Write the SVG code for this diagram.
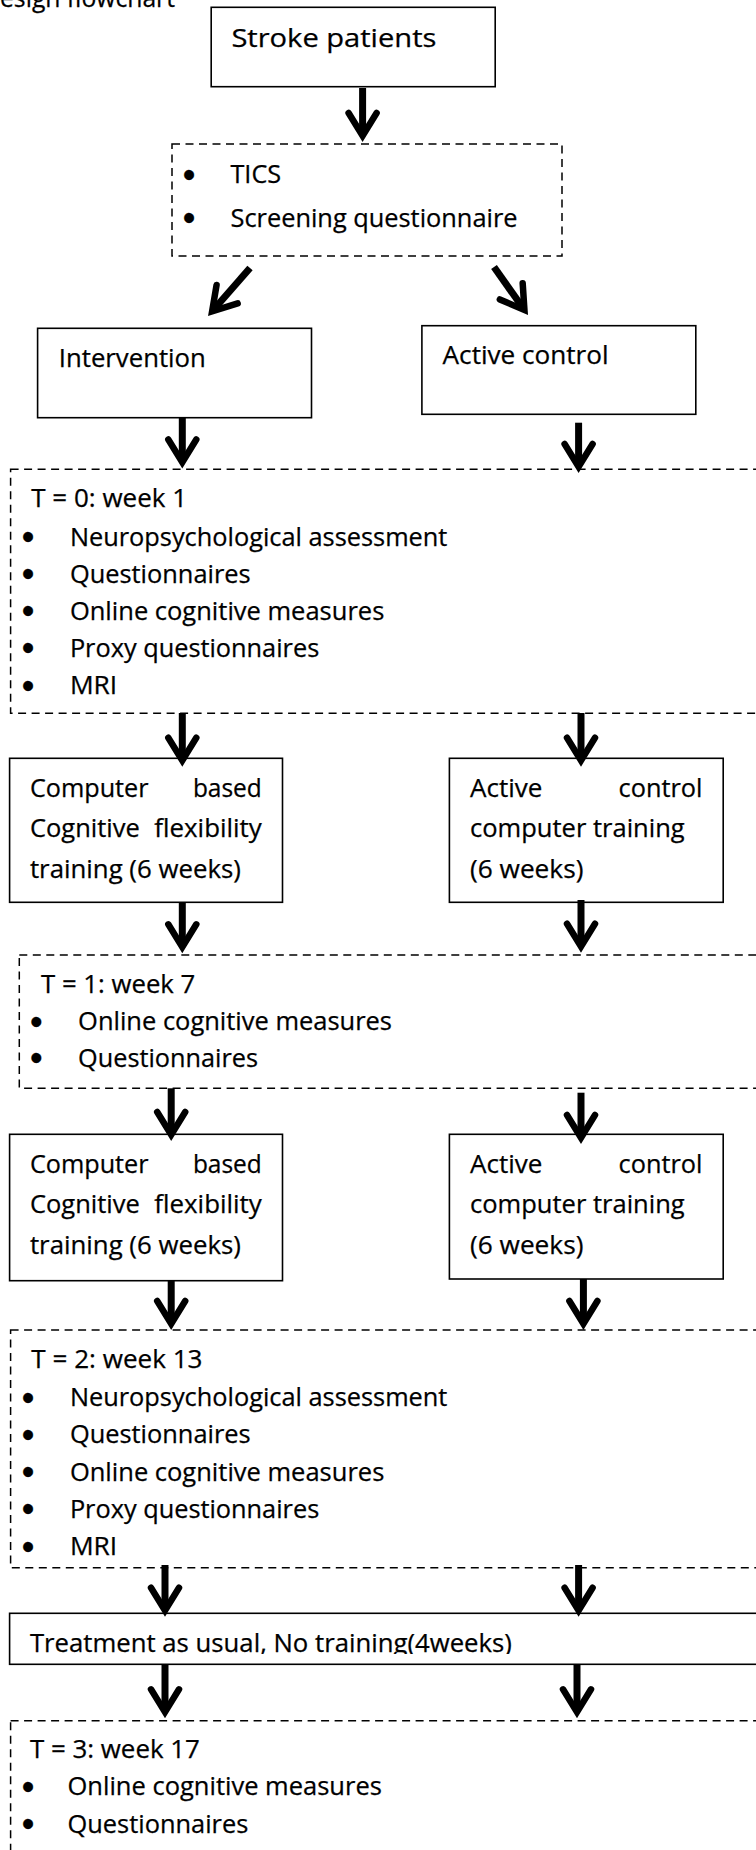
<svg xmlns="http://www.w3.org/2000/svg" width="756" height="1850" viewBox="0 0 756 1850">
<defs>
<style>
text{font-family:"Open Sans","Liberation Sans",sans-serif;font-size:25px;fill:#000;stroke:#000;stroke-width:0.25}
.box{fill:#fff;stroke:#000;stroke-width:1.6}
.dash{fill:none;stroke:#000;stroke-width:1.5;stroke-dasharray:8 5.5}
.shaft{stroke:#000;stroke-width:7;fill:none;marker-end:url(#ah)}
.bl{font-family:"Liberation Sans",sans-serif;font-size:36px;text-anchor:middle}
</style>
<marker id="ah" markerUnits="userSpaceOnUse" orient="auto" refX="0" refY="0" markerWidth="40" markerHeight="40" overflow="visible">
<path d="M-21,-14 L1.8,0 L-21,14" fill="none" stroke="#000" stroke-width="6.5" stroke-linecap="round" stroke-linejoin="miter" stroke-miterlimit="10"/>
</marker>
<clipPath id="tc"><rect x="0" y="1600" width="756" height="54"/></clipPath>
</defs>
<rect width="756" height="1850" fill="#fff"/>

<g id="title"><text x="0" y="7" textLength="175" lengthAdjust="spacingAndGlyphs">esign flowchart</text></g>

<g id="stroke-patients">
<rect class="box" x="211.2" y="7.3" width="284" height="79.4"/>
<text x="231.4" y="46.7" textLength="205" lengthAdjust="spacingAndGlyphs">Stroke patients</text>
</g>

<g id="screening">
<rect class="dash" x="172" y="144" width="390" height="112"/>
<text class="bl" x="189" y="187">•</text>
<text x="230.5" y="183.3" textLength="50.6" lengthAdjust="spacingAndGlyphs">TICS</text>
<text class="bl" x="189" y="229.6">•</text>
<text x="230.5" y="226.7" textLength="287" lengthAdjust="spacingAndGlyphs">Screening questionnaire</text>
</g>

<g id="intervention">
<rect class="box" x="37.6" y="328.3" width="273.9" height="89.4"/>
<text x="58.8" y="367.3" textLength="147" lengthAdjust="spacingAndGlyphs">Intervention</text>
</g>

<g id="active-control">
<rect class="box" x="421.9" y="325.7" width="273.9" height="88.6"/>
<text x="442.6" y="364" textLength="166" lengthAdjust="spacingAndGlyphs">Active control</text>
</g>

<g id="t0">
<rect class="dash" x="10.6" y="469.3" width="770" height="244"/>
<text x="31.3" y="507" textLength="155.7" lengthAdjust="spacingAndGlyphs">T = 0: week 1</text>
<text class="bl" x="28" y="549">•</text>
<text x="69.9" y="545.5" textLength="377.5" lengthAdjust="spacingAndGlyphs">Neuropsychological assessment</text>
<text class="bl" x="28" y="586">•</text>
<text x="69.9" y="582.5" textLength="180.8" lengthAdjust="spacingAndGlyphs">Questionnaires</text>
<text class="bl" x="28" y="623">•</text>
<text x="69.9" y="619.5" textLength="314.4" lengthAdjust="spacingAndGlyphs">Online cognitive measures</text>
<text class="bl" x="28" y="660.2">•</text>
<text x="69.9" y="656.7" textLength="249.3" lengthAdjust="spacingAndGlyphs">Proxy questionnaires</text>
<text class="bl" x="28" y="697.8">•</text>
<text x="69.9" y="694.3" textLength="47.3" lengthAdjust="spacingAndGlyphs">MRI</text>
</g>

<g id="cft-1">
<rect class="box" x="9.6" y="758.3" width="272.9" height="144"/>
<text y="796.7"><tspan x="29.9" textLength="118.6" lengthAdjust="spacingAndGlyphs">Computer</tspan><tspan x="192.9" textLength="68.9" lengthAdjust="spacingAndGlyphs">based</tspan></text>
<text y="837.3"><tspan x="29.9" textLength="109.9" lengthAdjust="spacingAndGlyphs">Cognitive</tspan><tspan x="154.3" textLength="107.5" lengthAdjust="spacingAndGlyphs">flexibility</tspan></text>
<text x="29.9" y="878.3" textLength="211" lengthAdjust="spacingAndGlyphs">training (6 weeks)</text>
</g>

<g id="act-1">
<rect class="box" x="449.4" y="758.3" width="273.8" height="144"/>
<text y="796.7"><tspan x="470" textLength="72.4" lengthAdjust="spacingAndGlyphs">Active</tspan><tspan x="618.6" textLength="83.9" lengthAdjust="spacingAndGlyphs">control</tspan></text>
<text x="470" y="837.3" textLength="214.7" lengthAdjust="spacingAndGlyphs">computer training</text>
<text x="470" y="878.3" textLength="113.4" lengthAdjust="spacingAndGlyphs">(6 weeks)</text>
</g>

<g id="t1">
<rect class="dash" x="19.3" y="955" width="770" height="133.3"/>
<text x="41" y="992.7" textLength="154.3" lengthAdjust="spacingAndGlyphs">T = 1: week 7</text>
<text class="bl" x="36.2" y="1033.5">•</text>
<text x="78.1" y="1030" textLength="313.9" lengthAdjust="spacingAndGlyphs">Online cognitive measures</text>
<text class="bl" x="36.2" y="1070.2">•</text>
<text x="78.1" y="1066.7" textLength="179.9" lengthAdjust="spacingAndGlyphs">Questionnaires</text>
</g>

<g id="cft-2">
<rect class="box" x="9.6" y="1134.3" width="272.9" height="146.4"/>
<text y="1172.7"><tspan x="29.9" textLength="118.6" lengthAdjust="spacingAndGlyphs">Computer</tspan><tspan x="192.9" textLength="68.9" lengthAdjust="spacingAndGlyphs">based</tspan></text>
<text y="1213.3"><tspan x="29.9" textLength="109.9" lengthAdjust="spacingAndGlyphs">Cognitive</tspan><tspan x="154.3" textLength="107.5" lengthAdjust="spacingAndGlyphs">flexibility</tspan></text>
<text x="29.9" y="1254" textLength="211" lengthAdjust="spacingAndGlyphs">training (6 weeks)</text>
</g>

<g id="act-2">
<rect class="box" x="449.4" y="1134.3" width="273.8" height="144.7"/>
<text y="1172.7"><tspan x="470" textLength="72.4" lengthAdjust="spacingAndGlyphs">Active</tspan><tspan x="618.6" textLength="83.9" lengthAdjust="spacingAndGlyphs">control</tspan></text>
<text x="470" y="1213.3" textLength="214.7" lengthAdjust="spacingAndGlyphs">computer training</text>
<text x="470" y="1254" textLength="113.4" lengthAdjust="spacingAndGlyphs">(6 weeks)</text>
</g>

<g id="t2">
<rect class="dash" x="10.6" y="1330" width="770" height="237.7"/>
<text x="31.3" y="1368.3" textLength="171.2" lengthAdjust="spacingAndGlyphs">T = 2: week 13</text>
<text class="bl" x="28" y="1409.5">•</text>
<text x="69.9" y="1406" textLength="377.5" lengthAdjust="spacingAndGlyphs">Neuropsychological assessment</text>
<text class="bl" x="28" y="1446.8">•</text>
<text x="69.9" y="1443.3" textLength="180.8" lengthAdjust="spacingAndGlyphs">Questionnaires</text>
<text class="bl" x="28" y="1484.2">•</text>
<text x="69.9" y="1480.7" textLength="314.4" lengthAdjust="spacingAndGlyphs">Online cognitive measures</text>
<text class="bl" x="28" y="1521.2">•</text>
<text x="69.9" y="1517.7" textLength="249.3" lengthAdjust="spacingAndGlyphs">Proxy questionnaires</text>
<text class="bl" x="28" y="1558.5">•</text>
<text x="69.9" y="1555" textLength="47.3" lengthAdjust="spacingAndGlyphs">MRI</text>
</g>

<g id="treatment">
<rect class="box" x="9.6" y="1613.3" width="770" height="51"/>
<text x="29.9" y="1651.7" textLength="482" lengthAdjust="spacingAndGlyphs" clip-path="url(#tc)">Treatment as usual, No training(4weeks)</text>
</g>

<g id="t3">
<rect class="dash" x="10.6" y="1720.7" width="770" height="200"/>
<text x="29.9" y="1757.5" textLength="170" lengthAdjust="spacingAndGlyphs">T = 3: week 17</text>
<text class="bl" x="28" y="1798.5">•</text>
<text x="67.5" y="1795" textLength="314.4" lengthAdjust="spacingAndGlyphs">Online cognitive measures</text>
<text class="bl" x="28" y="1836.2">•</text>
<text x="67.5" y="1832.7" textLength="180.8" lengthAdjust="spacingAndGlyphs">Questionnaires</text>
</g>

<g id="connectors">
<line class="shaft" x1="362.6" y1="88" x2="362.6" y2="134"/>
<line class="shaft" x1="250" y1="268" x2="213.3" y2="310"/>
<line class="shaft" x1="494" y1="267" x2="523.4" y2="308.5"/>
<line class="shaft" x1="182.3" y1="418" x2="182.3" y2="460.5"/>
<line class="shaft" x1="578.6" y1="422.7" x2="578.6" y2="465"/>
<line class="shaft" x1="182.3" y1="713" x2="182.3" y2="758.7"/>
<line class="shaft" x1="581" y1="713" x2="581" y2="758.7"/>
<line class="shaft" x1="182.3" y1="902.3" x2="182.3" y2="945.3"/>
<line class="shaft" x1="581" y1="900" x2="581" y2="944.7"/>
<line class="shaft" x1="171.2" y1="1088.3" x2="171.2" y2="1133"/>
<line class="shaft" x1="581" y1="1092.7" x2="581" y2="1136"/>
<line class="shaft" x1="171.2" y1="1280.7" x2="171.2" y2="1322"/>
<line class="shaft" x1="583.4" y1="1279" x2="583.4" y2="1322"/>
<line class="shaft" x1="165" y1="1565" x2="165" y2="1608.7"/>
<line class="shaft" x1="578.6" y1="1565" x2="578.6" y2="1608.7"/>
<line class="shaft" x1="165" y1="1664.3" x2="165" y2="1710.3"/>
<line class="shaft" x1="577" y1="1664.3" x2="577" y2="1710.3"/>
</g>
</svg>
